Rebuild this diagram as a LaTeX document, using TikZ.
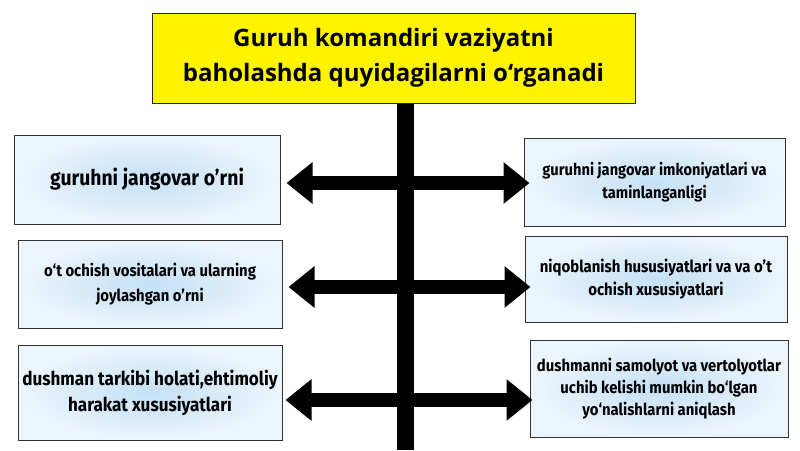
\documentclass[tikz,border=0pt]{standalone}
\usepackage{fontspec}
\setmainfont{Fira Sans}[FakeStretch=0.9]
\newfontfamily\titlefont{Open Sans}
\usetikzlibrary{arrows.meta}
\definecolor{titleyellow}{RGB}{255,243,0}
\definecolor{boxblue}{RGB}{196,224,246}
\definecolor{boxpale}{RGB}{236,245,252}
\tikzset{
  titlebox/.style={draw=black!85, line width=1pt, fill=titleyellow, minimum width=483, minimum height=90, align=center, font=\titlefont\fontsize{24}{35}\selectfont\bfseries},
  infobox/.style={draw=black!80, line width=1pt, inner color=boxblue, outer color=boxpale, align=center, font=\bfseries},
  bar/.style={line width=17pt},
  dblarr/.style={line width=14pt, {Triangle[width=40pt,length=26pt]}-{Triangle[width=40pt,length=26pt]}}
}
\begin{document}
\begin{tikzpicture}[x=1pt, y=-1pt]
    \useasboundingbox (0,0) rectangle (800,450);
    \node[titlebox](title) at (393.5,58){Guruh komandiri vaziyatni\\baholashda quyidagilarni o‘rganadi};
    \coordinate (barend) at (405,450);
    \draw[bar](title.south -| barend)--(barend);
    % left column
    \node[infobox, minimum width=266, minimum height=89, font=\fontsize{21.5}{26}\selectfont\bfseries](l1) at (147,179.5){guruhni jangovar o'rni};
    \node[infobox, minimum width=264, minimum height=88, font=\fontsize{16.5}{25}\selectfont\bfseries](l2) at (150,284){o‘t ochish vositalari va ularning\\joylashgan o'rni};
    \node[infobox, minimum width=264, minimum height=95, font=\fontsize{19}{26}\selectfont\bfseries](l3) at (150,392.5){dushman tarkibi holati,ehtimoliy\\harakat xususiyatlari};
    % right column
    \node[infobox, minimum width=261, minimum height=88, font=\fontsize{16.3}{23}\selectfont\bfseries](r1) at (654.5,182){guruhni jangovar imkoniyatlari va\\taminlanganligi};
    \node[infobox, minimum width=262, minimum height=86, font=\fontsize{16.6}{23}\selectfont\bfseries](r2) at (656,279){niqoblanish hususiyatlari va va o't\\ochish xususiyatlari};
    \node[infobox, minimum width=258, minimum height=97, font=\fontsize{16.5}{22}\selectfont\bfseries](r3) at (659,388.5){dushmanni samolyot va vertolyotlar\\uchib kelishi mumkin bo‘lgan\\yo‘nalishlarni aniqlash};
    \foreach \i/\dx/\dy in {1/6/3.5, 2/6/3, 3/3/7.5}
        \draw[dblarr]([shift={(\dx,\dy)}]l\i.east)--([shift={(\dx,\dy)}]l\i.east -| r\i.west);
\end{tikzpicture}
\end{document}
